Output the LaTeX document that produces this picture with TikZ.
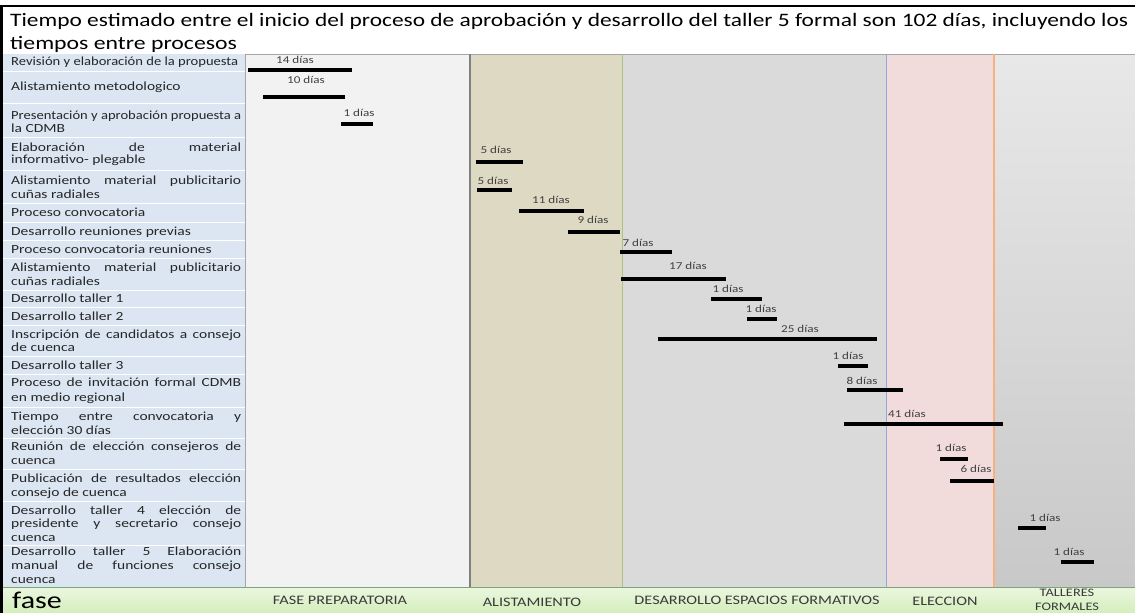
\documentclass[tikz,border=0pt]{standalone}
\usepackage{fontspec}
\setmainfont{Carlito}[FakeStretch=1.25]
\usetikzlibrary{calc}

\definecolor{labbg}{HTML}{DCE6F2}
\definecolor{labtxt}{HTML}{262626}
\definecolor{prepbg}{HTML}{F2F2F2}
\definecolor{alisbg}{HTML}{DDD9C3}
\definecolor{desabg}{HTML}{DADADA}
\definecolor{elecbg}{HTML}{F2DCDB}
\definecolor{tallA}{HTML}{E8E8E8}
\definecolor{tallB}{HTML}{C8C8C8}
\definecolor{greenA}{HTML}{EBF7DF}
\definecolor{greenB}{HTML}{D3EEBB}
\definecolor{framegray}{HTML}{A6A6A6}
\definecolor{sepA}{HTML}{7F7F7F}
\definecolor{sepB}{HTML}{A9C47F}
\definecolor{sepC}{HTML}{8EAADB}
\definecolor{sepD}{HTML}{F4B183}
\definecolor{phasetxt}{HTML}{3A3A3A}
\definecolor{durtxt}{HTML}{404040}

% one justified line of the activity column
\newcommand{\fillline}[1]{\makebox[230pt][s]{#1}}
% a line too long for the column, narrowed to its width
\newcommand{\fitline}[1]{\resizebox{230pt}{\height}{#1}}

\tikzset{
  lbl/.style={anchor=base west, inner sep=0pt, text=labtxt,
    font=\fontsize{12.4}{14}\selectfont},
  dur/.style={inner sep=0pt, text=durtxt, font=\fontsize{10.5}{12}\selectfont},
  bar/.style={line width=3.5pt, black},
  phase/.style={inner sep=0pt, text=phasetxt, font=\fontsize{13}{15}\selectfont},
  rowsep/.style={white, line width=0.8pt},
}

\begin{document}
\begin{tikzpicture}[x=1pt,y=-1pt]
\useasboundingbox (0,0) rectangle (1135,613);
\fill[white] (0,0) rectangle (1135,613);

% title
\node[anchor=base west, inner sep=0pt, font=\fontsize{19}{23}\selectfont] (t1) at (10,27)
  {\resizebox{1118pt}{\height}{Tiempo estimado entre el inicio del proceso de aprobación y desarrollo del taller 5 formal son 102 días, incluyendo los}};
\node[anchor=base west, inner sep=0pt, font=\fontsize{19}{23}\selectfont] (t2) at (10,49)
  {tiempos entre procesos};

% activity column
\fill[labbg] (3,54) rectangle (245,587);
\foreach \yy in {71,103,137,170,203,222,240,258,290,307,325,356,374,407,438,469,501,545}
  \draw[rowsep] (3,\yy) -- (245,\yy);

% phase columns
\fill[prepbg] (245,54) rectangle (470,587);
\fill[alisbg] (470,54) rectangle (622,587);
\fill[desabg] (622,54) rectangle (886,587);
\fill[elecbg] (886,54) rectangle (994,587);
\shade[top color=tallA, bottom color=tallB] (994,54) rectangle (1135,587);
\draw[framegray, line width=0.8pt] (1135,54) -- (245,54) -- (245,587);
\draw[sepA, line width=1.2pt] (470,54) -- (470,587);
\draw[sepB, line width=1pt] (622,54) -- (622,587);
\draw[sepC, line width=1pt] (886,54) -- (886,587);
\draw[sepD, line width=1.2pt] (994,54) -- (994,587);

% phase row
\shade[top color=greenA, bottom color=greenB] (3,587) rectangle (1135,613);
\draw[framegray!70!green!60!gray, line width=0.6pt] (3,587) -- (1135,587);

% outer frame
\draw[black, line width=2.5pt] (0,6) -- (1135,6);
\draw[black, line width=3pt] (1.5,4.8) -- (1.5,613);

% activities
\node[lbl] (a1)  at (11,65)  {\resizebox{227pt}{\height}{Revisión y elaboración de la propuesta}};
\node[lbl] (a2)  at (11,90)  {Alistamiento metodologico};
\node[lbl] (a3a) at (11,119) {\fitline{Presentación y aprobación propuesta a}};
\node[lbl] (a3b) at (11,132) {la CDMB};
\node[lbl] (a4a) at (11,151) {\fillline{Elaboración de material}};
\node[lbl] (a4b) at (11,163) {informativo- plegable};
\node[lbl] (a5a) at (11,184) {\fillline{Alistamiento material publicitario}};
\node[lbl] (a5b) at (11,198) {cuñas radiales};
\node[lbl] (a6)  at (11,216) {Proceso convocatoria};
\node[lbl] (a7)  at (11,235) {Desarrollo reuniones previas};
\node[lbl] (a8)  at (11,253) {Proceso convocatoria reuniones};
\node[lbl] (a9a) at (11,271) {\fillline{Alistamiento material publicitario}};
\node[lbl] (a9b) at (11,285) {cuñas radiales};
\node[lbl] (a10) at (11,302) {Desarrollo taller 1};
\node[lbl] (a11) at (11,320) {Desarrollo taller 2};
\node[lbl] (a12a) at (11,338) {\fillline{Inscripción de candidatos a consejo}};
\node[lbl] (a12b) at (11,351) {de cuenca};
\node[lbl] (a13) at (11,369) {Desarrollo taller 3};
\node[lbl] (a14a) at (11,386) {\fillline{Proceso de invitación formal CDMB}};
\node[lbl] (a14b) at (11,401) {en medio regional};
\node[lbl] (a15a) at (11,420) {\fillline{Tiempo entre convocatoria y}};
\node[lbl] (a15b) at (11,434) {elección 30 días};
\node[lbl] (a16a) at (11,450) {\fillline{Reunión de elección consejeros de}};
\node[lbl] (a16b) at (11,464) {cuenca};
\node[lbl] (a17a) at (11,482) {\fillline{Publicación de resultados elección}};
\node[lbl] (a17b) at (11,496) {consejo de cuenca};
\node[lbl] (a18a) at (11,514) {\fillline{Desarrollo taller 4 elección de}};
\node[lbl] (a18b) at (11,527) {\fillline{presidente y secretario consejo}};
\node[lbl] (a18c) at (11,541) {cuenca};
\node[lbl] (a19a) at (11,555) {\fillline{Desarrollo taller 5 Elaboración}};
\node[lbl] (a19b) at (11,569) {\fillline{manual de funciones consejo}};
\node[lbl] (a19c) at (11,583) {cuenca};

% duration bars: start, end, row y, label x, label y, days
\foreach \xa/\xb/\yb/\lx/\ly/\dd [count=\i] in {
  248/352/70/295/60/14,
  263/345/97/306/80/10,
  341/373/124/359/113/1,
  476/523/162/496/150/5,
  477/512/190/493/181/5,
  519/584/211/551/200/11,
  568/620/232/593/220/9,
  620/672/252/638/243/7,
  621/726/279/688/266/17,
  711/762/299/728/289/1,
  747/777/319/761/309/1,
  658/877/339/800/329/25,
  838/868/366/848/356/1,
  847/903/390/862/381/8,
  844/1003/424/907/414/41,
  940/968/459/951/448/1,
  950/994/481/976/469/6,
  1018/1046/528/1045/518/1,
  1061/1094/562/1069/552/1}
{
  \draw[bar] (\xa,\yb) -- (\xb,\yb);
  \node[dur] (d\i) at (\lx,\ly) {\dd{} días};
}

% phase names
\node[anchor=west, inner sep=0pt, font=\fontsize{24}{26}\selectfont] (fase) at (12,600) {fase};
\node[phase] (p1) at (340,600) {FASE PREPARATORIA};
\node[phase] (p2) at (532,602) {ALISTAMIENTO};
\node[phase] (p3) at (757,600) {DESARROLLO ESPACIOS FORMATIVOS};
\node[phase] (p4) at (945,601) {ELECCION};
\node[phase, font=\fontsize{11.5}{13.5}\selectfont, align=center] (p5) at (1067,600) {TALLERES\\FORMALES};
\end{tikzpicture}
\end{document}
